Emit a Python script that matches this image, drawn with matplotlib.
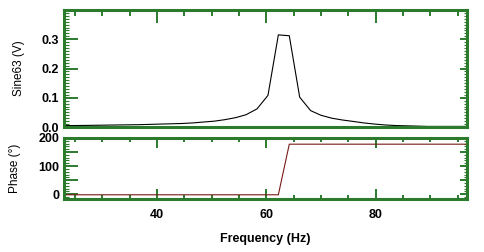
import matplotlib
matplotlib.use("Agg")
import matplotlib.pyplot as plt
from matplotlib.ticker import MultipleLocator, FixedLocator, NullFormatter

freq = [23.2, 25.1, 27.1, 29.0, 31.0, 32.9, 34.9, 36.8, 38.8, 40.7, 42.7, 44.6,
        46.6, 48.5, 50.5, 52.4, 54.4, 56.3, 58.3, 60.3, 62.2, 64.2, 66.1, 68.1,
        70.0, 72.0, 73.9, 75.9, 77.8, 79.8, 81.7, 83.7, 85.6, 87.6, 89.5, 91.5,
        93.4, 95.4, 97.3]
amplitude = [0.005, 0.005, 0.0055, 0.006, 0.0065, 0.007, 0.0075, 0.008, 0.009,
             0.010, 0.011, 0.012, 0.014, 0.017, 0.020, 0.025, 0.032, 0.042,
             0.062, 0.108, 0.315, 0.312, 0.102, 0.056, 0.040, 0.030, 0.024,
             0.019, 0.014, 0.010, 0.007, 0.005, 0.004, 0.003, 0.002, 0.002,
             0.002, 0.002, 0.002]
phase = [-2] * 21 + [178] * 18

x_ticks = [40, 60, 80]
amp_ticks = [0.0, 0.1, 0.2, 0.3]
amp_labels = ["0.0", "0.1", "0.2", "0.3"]
phase_ticks = [0, 50, 100, 150, 200]
phase_labels = ["0", "", "100", "", "200"]

GREEN = "#2c7a2c"
plt.rcParams["font.family"] = ["Liberation Sans", "DejaVu Sans"]

fig = plt.figure(figsize=(4.84, 2.52), dpi=100)
W, H = 484, 252
def rect(l, t, r, b):
    return [l / W, 1 - b / H, (r - l) / W, (b - t) / H]

ax1 = fig.add_axes(rect(64, 10, 467, 127))
ax2 = fig.add_axes(rect(64, 138, 467, 199))

ax1.plot(freq, amplitude, color="black", lw=0.8)
ax2.plot(freq, phase, color="#7a1a1a", lw=0.8)

for ax in (ax1, ax2):
    ax.set_xlim(23, 96.7)
    for s in ax.spines.values():
        s.set_color(GREEN)
        s.set_linewidth(2.2)
    ax.xaxis.set_major_locator(FixedLocator(x_ticks))
    ax.xaxis.set_minor_locator(MultipleLocator(5))
    ax.tick_params(which="both", direction="in", color=GREEN, width=1.4,
                   labelsize=9)
    ax.tick_params(which="major", length=9)
    ax.tick_params(which="minor", length=4)
    ax.tick_params(axis="y", which="minor", length=3.5, width=0.8)
    ax.tick_params(axis="y", which="major", length=10)

ax1.set_ylim(0, 0.4)
ax1.yaxis.set_major_locator(FixedLocator(amp_ticks))
ax1.yaxis.set_minor_locator(MultipleLocator(0.01))
ax1.set_yticklabels(amp_labels, fontweight="bold")
ax1.tick_params(axis="x", which="both", top=True, bottom=False,
                labelbottom=False)
ax1.set_ylabel("Sine63 (V)", fontsize=8.5, labelpad=12)

ax2.set_ylim(-17, 200)
ax2.yaxis.set_major_locator(FixedLocator(phase_ticks))
ax2.yaxis.set_minor_locator(MultipleLocator(10))
ax2.set_yticklabels(phase_labels, fontweight="bold")
ax2.tick_params(axis="x", which="both", top=True, bottom=True)
ax2.tick_params(axis="x", which="major", length=7, pad=7)
ax2.tick_params(axis="x", which="minor", length=3)
ax2.set_xticklabels([str(v) for v in x_ticks], fontweight="bold")
ax2.set_ylabel("Phase (°)", fontsize=8.5, labelpad=12)
ax2.set_xlabel("Frequency (Hz)", fontsize=9, fontweight="bold", labelpad=9)

# shorter ticks on the right-hand side
for ax, maj, minr in ((ax1, amp_ticks + [0.4], 0.01), (ax2, phase_ticks, 10)):
    sec = ax.secondary_yaxis("right")
    sec.spines["right"].set_visible(False)
    sec.yaxis.set_major_locator(FixedLocator(maj))
    sec.yaxis.set_minor_locator(MultipleLocator(minr))
    sec.yaxis.set_major_formatter(NullFormatter())
    sec.tick_params(which="both", direction="in", color=GREEN)
    sec.tick_params(which="major", length=5, width=1.4)
    sec.tick_params(which="minor", length=2.5, width=0.8)

fig.align_ylabels([ax1, ax2])
fig.savefig("out.png", dpi=100, facecolor="white")
